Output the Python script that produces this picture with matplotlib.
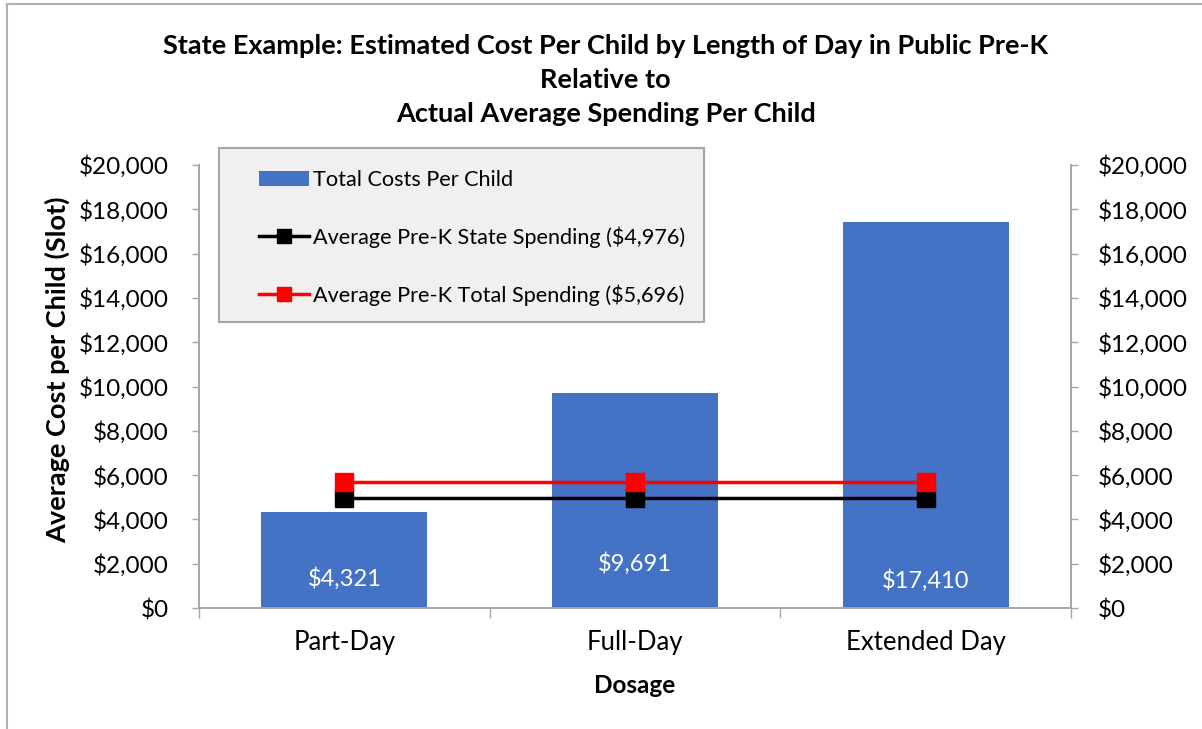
#%%
# State example: estimated cost per child by length of day
#
import matplotlib as mpl
import matplotlib.pyplot as plt
from matplotlib.patches import Rectangle
from matplotlib.ticker import FuncFormatter

mpl.rcParams['font.family'] = ['Lato', 'DejaVu Sans']

#
# Data
#
categories = ['Part-Day', 'Full-Day', 'Extended Day']
total_costs = [4321, 9691, 17410]
state_spending = [4976, 4976, 4976]
total_spending = [5696, 5696, 5696]
bar_labels = ['$4,321', '$9,691', '$17,410']

title = ('State Example: Estimated Cost Per Child by Length of Day in Public Pre-K\n'
         'Relative to\nActual Average Spending Per Child')

#
# Styles
#
bar_color = '#4472C4'
axis_gray = '#A6A6A6'
label_heights = [1350, 2030, 1260]  # where Excel put the value labels


def money(v, pos):
    return '${:,.0f}'.format(v)


fig = plt.figure(figsize=(12.02, 7.29), dpi=100)
ax = fig.add_axes([199 / 1202, 121 / 729, 872 / 1202, 443 / 729])
ax2 = ax.twinx()

x = list(range(len(categories)))
bars = ax.bar(x, total_costs, width=0.57, color=bar_color,
              label='Total Costs Per Child', zorder=2)
l1, = ax.plot(x, state_spending, color='black', lw=2.5, marker='s',
              markersize=13.5, label='Average Pre-K State Spending ($4,976)', zorder=3)
l2, = ax.plot(x, total_spending, color='red', lw=2.5, marker='s',
              markersize=13.5, label='Average Pre-K Total Spending ($5,696)', zorder=3)

for xi, lab, yh in zip(x, bar_labels, label_heights):
    ax.text(xi, yh, lab, color='white', ha='center', va='center', fontsize=17)

# axes
for a, pad in ((ax, 17), (ax2, 14)):
    a.set_ylim(0, 20000)
    a.set_xlim(-0.5, 2.5)
    a.yaxis.set_major_locator(mpl.ticker.MultipleLocator(2000))
    a.yaxis.set_major_formatter(FuncFormatter(money))
    a.tick_params(axis='y', length=5, width=1, color=axis_gray,
                  labelsize=17.5, pad=pad)
    a.spines['top'].set_visible(False)
    for s in ('left', 'right', 'bottom'):
        a.spines[s].set_color(axis_gray)
        a.spines[s].set_linewidth(1.2)

ax.set_xticks([-0.5, 0.5, 1.5, 2.5])
ax.set_xticklabels([])
ax.tick_params(axis='x', which='major', length=7, width=1, color=axis_gray)
ax.set_xticks(x, minor=True)
ax.set_xticklabels(categories, minor=True, fontsize=18.5)
ax.tick_params(axis='x', which='minor', length=0, pad=16)

ax.set_ylabel('Average Cost per Child (Slot)', fontsize=19.5, fontweight='bold')
ax.yaxis.set_label_coords(-0.148, 0.537)
ax.set_xlabel('Dosage', fontsize=17.5, fontweight='bold')
ax.xaxis.set_label_coords(0.5, -0.149)

fig.text(0.504, 1 - 80 / 729, title, ha='center', va='center', fontsize=19.5,
         fontweight='bold', linespacing=1.5)

# legend box
ax.add_patch(Rectangle((0.0229, 0.6456), 0.556, 0.3927, transform=ax.transAxes,
                       facecolor='#F0F0F0', edgecolor=axis_gray, lw=1.5,
                       clip_on=False, zorder=4))
leg = ax.legend(handles=[bars, l1, l2], loc='upper left',
                bbox_to_anchor=(0.069, 0.989), frameon=False, fontsize=15.6,
                borderaxespad=0, borderpad=0,
                handlelength=2.3, handletextpad=0.2, labelspacing=1.68,
                numpoints=1, markerscale=0.73)
leg.set_zorder(5)

# outer chart border (only left and top are inside the crop)
fig.patches.append(Rectangle((6.5 / 1202, -0.1), 1.2, 1.1 - 4.5 / 729,
                             transform=fig.transFigure, fill=False,
                             edgecolor='#B0B0B0', lw=1.5))

fig.savefig('out.png', dpi=100)
